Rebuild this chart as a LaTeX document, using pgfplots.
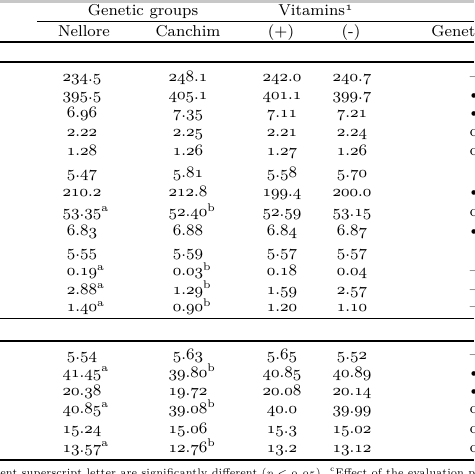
\documentclass[border=0pt]{standalone}
\usepackage{pgfplots}
\pgfplotsset{compat=1.18}
\usepackage{pgfplotstable}
\newcommand\osf[1]{\ensuremath{\mathnormal{#1}}}
\newcommand\fs{\fontsize{7.9}{9}\selectfont}
\newcommand\supA{\rlap{\textsuperscript{a}}}
\newcommand\supB{\rlap{\textsuperscript{b}}}
\def\mkd{d}\def\mkb{b}\def\mko{o}
\newcommand\mk[1]{\edef\tmp{#1}\ifx\tmp\mkd\textendash\else\ifx\tmp\mkb\textbullet\else\ifx\tmp\mko o\fi\fi\fi}

\pgfplotstableread{
y   n            c            p     m     g
82  234.5        248.1        242.0 240.7 d
100 395.5        405.1        401.1 399.7 b
118 6.96         7.35         7.11  7.21  b
137 2.22         2.25         2.21  2.24  o
156 1.28         1.26         1.27  1.26  o
178 5.47         5.81         5.58  5.70  n
197 210.2        212.8        199.4 200.0 b
217 {53.35\supA} {52.40\supB} 52.59 53.15 o
236 6.83         6.88         6.84  6.87  b
257 5.55         5.59         5.57  5.57  n
276 {0.19\supA}  {0.03\supB}  0.18  0.04  d
294 {2.88\supA}  {1.29\supB}  1.59  2.57  d
312 {1.40\supA}  {0.90\supB}  1.20  1.10  d
359 5.54         5.63         5.65  5.52  d
377 {41.45\supA} {39.80\supB} 40.85 40.89 b
395 20.38        19.72        20.08 20.14 b
413 {40.85\supA} {39.08\supB} 40.0  39.99 o
433 15.24        15.06        15.3  15.02 o
452 {13.57\supA} {12.76\supB} 13.2  13.12 o
}\tabdata

\begin{document}
\begin{tikzpicture}
\path[use as bounding box, clip] (0,0) rectangle (237pt,237pt);
\begin{axis}[
  x=0.5pt, y=0.5pt, y dir=reverse,
  xmin=0, xmax=474, ymin=0, ymax=474,
  hide axis, clip=false,
  point meta=explicit symbolic,
  every node near coord/.append style={anchor=base, inner sep=0pt, font=\fs, text=black},
]
% rules
\fill[black!22] (axis cs:0,0) rectangle (axis cs:474,3);
\draw[line width=0.6pt] (axis cs:37,21.5) -- (axis cs:474,21.5);
\draw[line width=0.9pt] (axis cs:0,42) -- (axis cs:474,42);
\draw[line width=0.9pt] (axis cs:0,62) -- (axis cs:474,62);
\draw[line width=0.9pt] (axis cs:0,318.5) -- (axis cs:474,318.5);
\draw[line width=0.9pt] (axis cs:0,341) -- (axis cs:474,341);
\draw[line width=0.9pt] (axis cs:0,460) -- (axis cs:474,460);
% headers
\node[anchor=base, font=\fs] at (axis cs:143,16) {Genetic groups};
\node[anchor=base, font=\fs] at (axis cs:316,16) {Vitamins\textsuperscript{\osf{1}}};
\node[anchor=base, font=\fs] at (axis cs:84,37) {Nellore};
\node[anchor=base, font=\fs] at (axis cs:188,37) {Canchim};
\node[anchor=base, font=\fs] at (axis cs:281,37) {(+)};
\node[anchor=base, font=\fs] at (axis cs:351,37) {(-)};
\node[anchor=base west, font=\fs, inner sep=0pt] at (axis cs:431,37) {Genetic groups};
% data columns
\addplot[draw=none, mark=none, nodes near coords={\osf{\pgfplotspointmeta}}]
  table[x expr=82, y=y, meta=n] {\tabdata};
\addplot[draw=none, mark=none, nodes near coords={\osf{\pgfplotspointmeta}}]
  table[x expr=188, y=y, meta=c] {\tabdata};
\addplot[draw=none, mark=none, nodes near coords={\osf{\pgfplotspointmeta}}]
  table[x expr=282, y=y, meta=p] {\tabdata};
\addplot[draw=none, mark=none, nodes near coords={\osf{\pgfplotspointmeta}}]
  table[x expr=352, y=y, meta=m] {\tabdata};
\addplot[draw=none, mark=none, nodes near coords={\mk{\pgfplotspointmeta}}]
  table[x expr=474, y=y, meta=g] {\tabdata};
% footnote
\node[anchor=base west, inner sep=0pt, xscale=0.93, transform shape, font=\fontsize{5.5}{6}\selectfont] at (axis cs:0,476)
  {ent superscript letter are significantly different ($p<\mathnormal{0.05}$). \textsuperscript{c}Effect of the evaluation period};
\end{axis}
\end{tikzpicture}
\end{document}
